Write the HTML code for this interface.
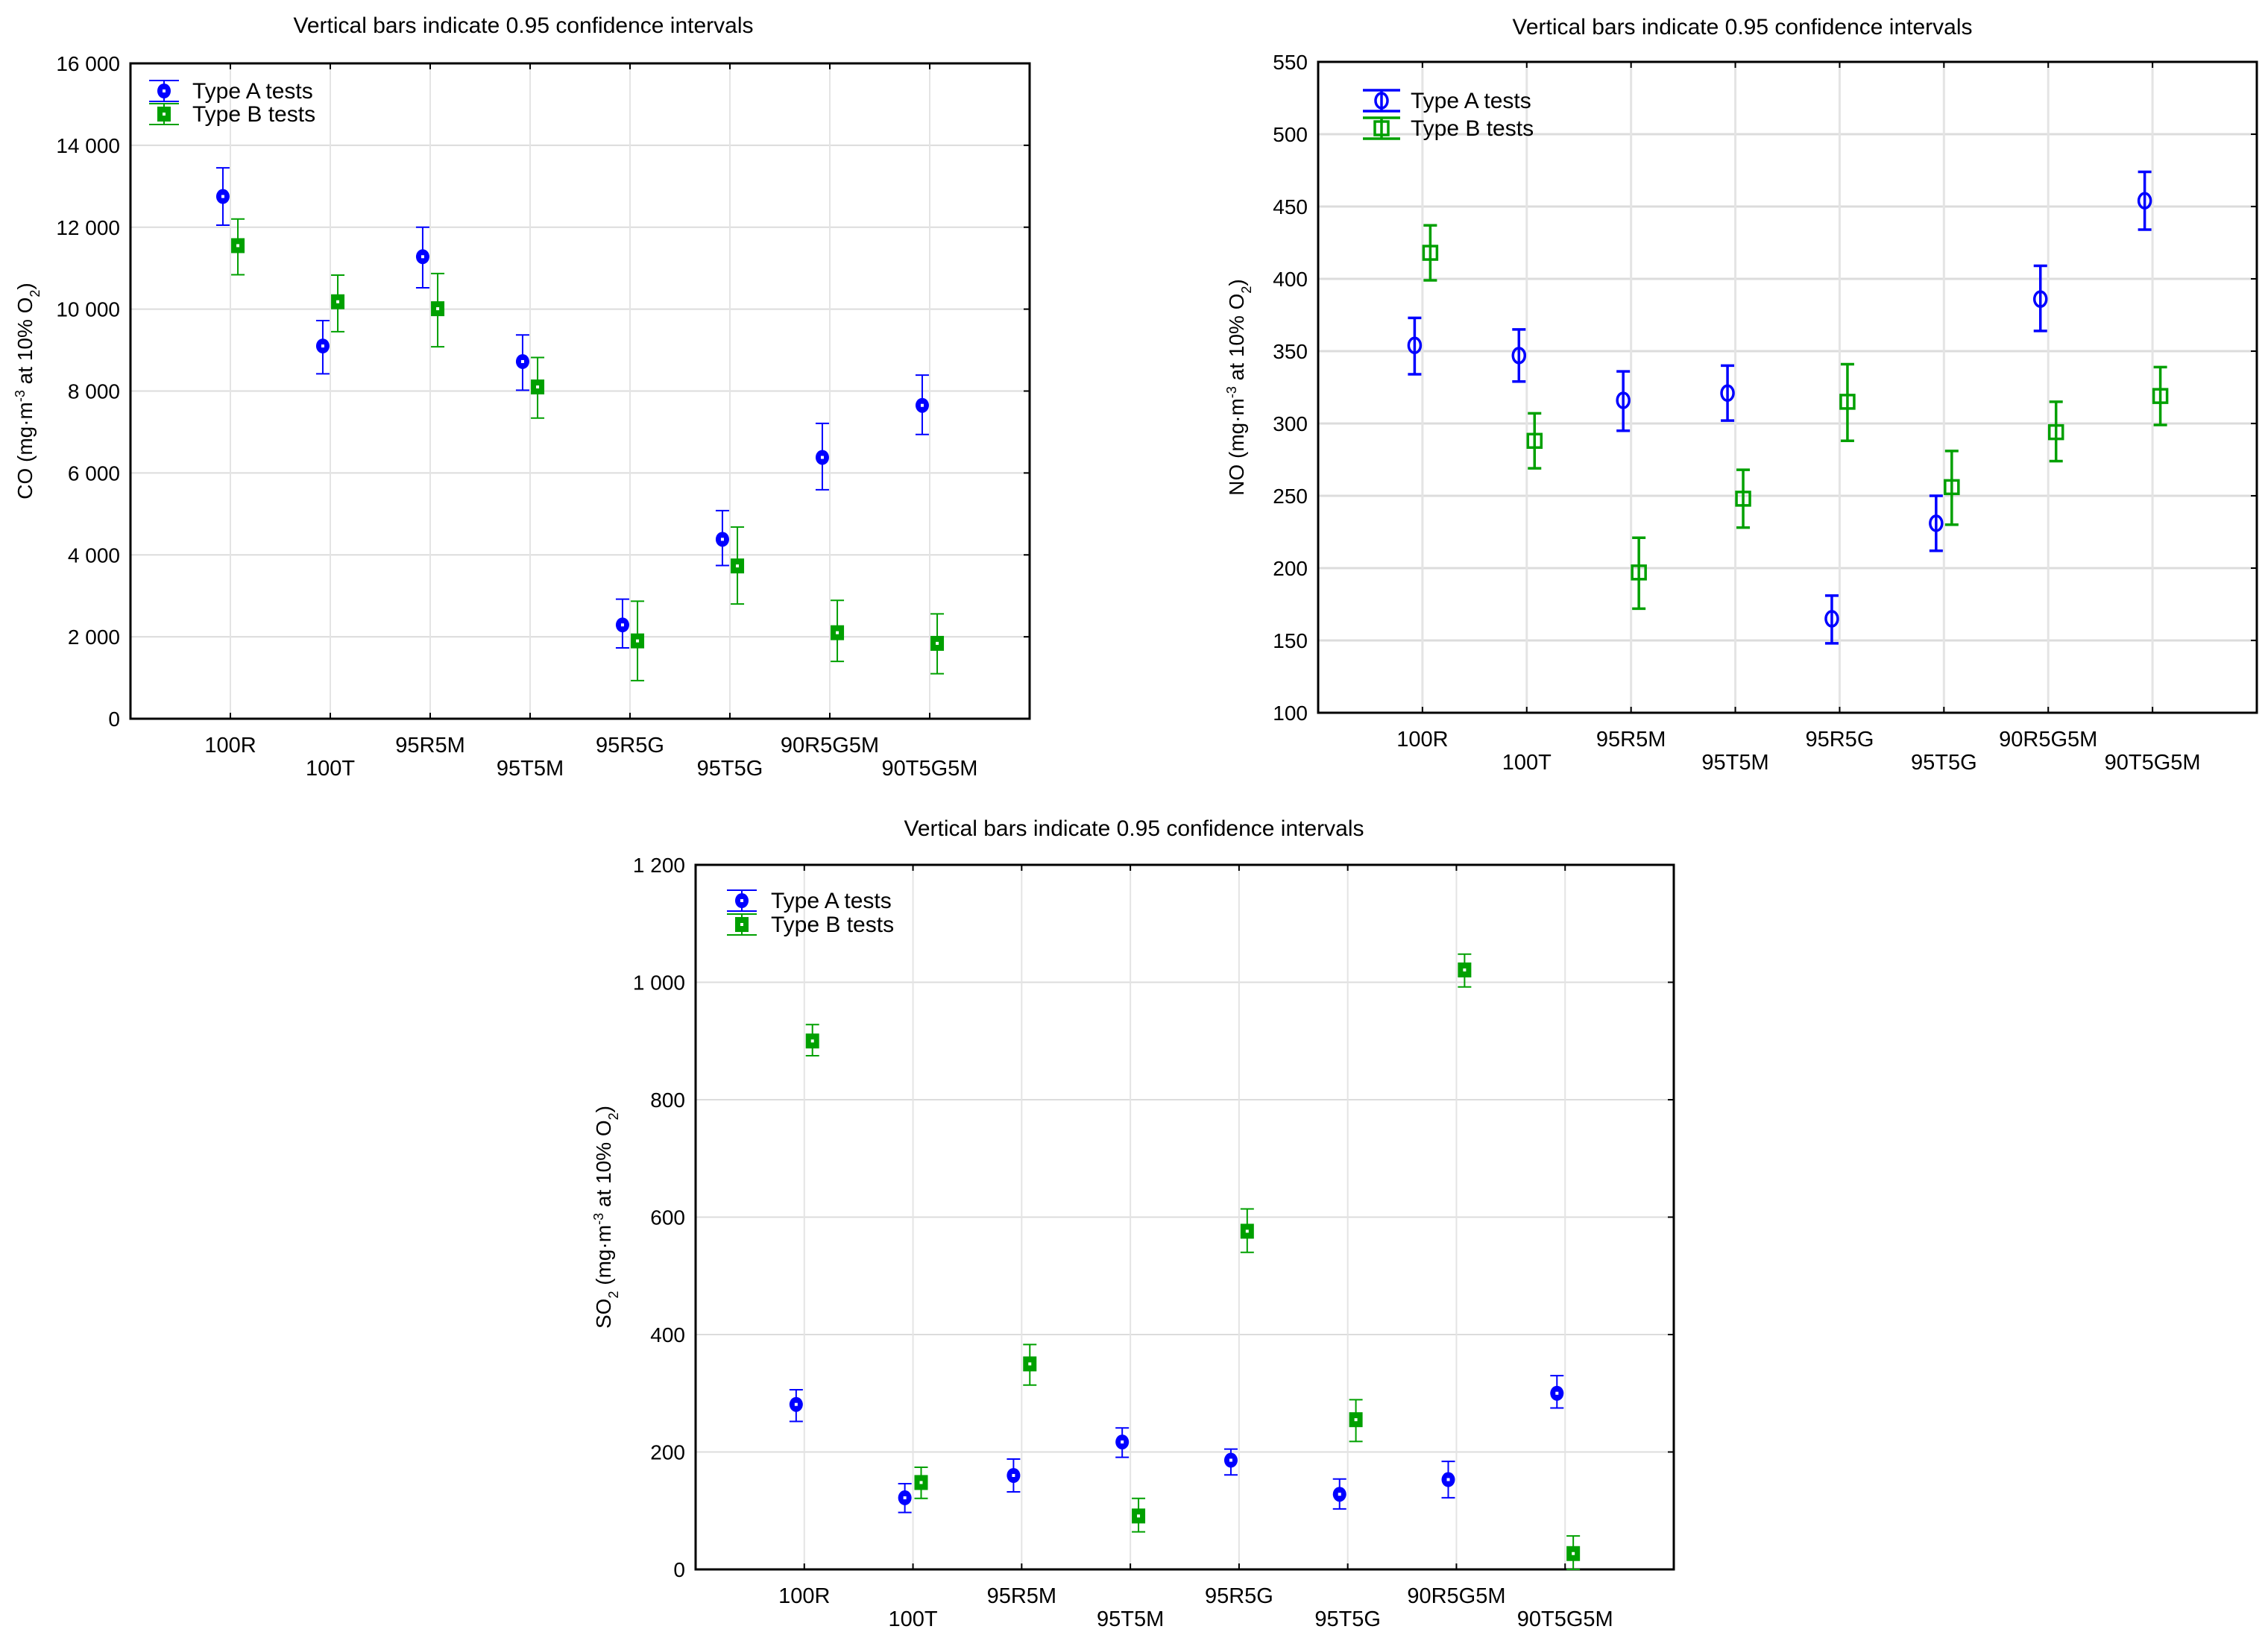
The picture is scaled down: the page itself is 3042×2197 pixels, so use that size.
<!DOCTYPE html>
<html><head><meta charset="utf-8"><style>
html,body{margin:0;padding:0;background:#fff;}
svg{display:block;font-family:"Liberation Sans",Arial,sans-serif;}
</style></head><body>
<svg id="root" width="3042" height="2197" viewBox="0 0 3042 2197" xmlns="http://www.w3.org/2000/svg"></svg>
<script>
const categories = ["100R","100T","95R5M","95T5M","95R5G","95T5G","90R5G5M","90T5G5M"];
const coA = [12750,9100,11280,8720,2290,4380,6380,7650];
const coAlo = [12050,8420,10520,8020,1730,3740,5590,6940];
const coAhi = [13450,9720,12000,9370,2920,5080,7210,8390];
const coB = [11550,10180,10010,8100,1900,3730,2100,1840];
const coBlo = [10840,9450,9080,7340,930,2800,1400,1100];
const coBhi = [12200,10830,10870,8820,2870,4680,2890,2560];
const coTicks = [0,2000,4000,6000,8000,10000,12000,14000,16000];
const coTickLabels = ["0","2 000","4 000","6 000","8 000","10 000","12 000","14 000","16 000"];
const noA = [354,347,316,321,165,231,386,454];
const noAlo = [334,329,295,302,148,212,364,434];
const noAhi = [373,365,336,340,181,250,409,474];
const noB = [418,288,197,248,315,256,294,319];
const noBlo = [399,269,172,228,288,230,274,299];
const noBhi = [437,307,221,268,341,281,315,339];
const noTicks = [100,150,200,250,300,350,400,450,500,550];
const noTickLabels = ["100","150","200","250","300","350","400","450","500","550"];
const soA = [281,122,160,217,186,128,153,300];
const soAlo = [252,97,132,191,161,103,122,275];
const soAhi = [306,146,188,241,205,154,184,330];
const soB = [900,148,350,91,576,255,1021,27];
const soBlo = [875,121,314,64,540,218,992,0];
const soBhi = [928,174,383,121,614,289,1048,57];
const soTicks = [0,200,400,600,800,1000,1200];
const soTickLabels = ["0","200","400","600","800","1 000","1 200"];

const NS="http://www.w3.org/2000/svg";
const root=document.getElementById('root');
function mk(tag,attrs,parent){const e=document.createElementNS(NS,tag);for(const k in attrs)e.setAttribute(k,attrs[k]);(parent||root).appendChild(e);return e;}
const BLUE="#0000ff", GREEN="#00a000";

function chart(cfg){
  const g=mk('g',{});
  
  
  const L=cfg.L,R=cfg.R,T=cfg.T,B=cfg.B,W=R-L,H=B-T;
  const y=v=>B-(v-cfg.ymin)/(cfg.ymax-cfg.ymin)*H;
  const x=i=>L+(i+1)*W/9;
  const off=0.075*W/9;
  cfg.ticks.forEach((t,i)=>{
    const gl=mk('line',{x1:L,x2:R,y1:y(t),y2:y(t),stroke:'#dcdcdc','stroke-width':cfg.open?3:2},g);
    
    
    mk('line',{x1:R-8,x2:R,y1:y(t),y2:y(t),stroke:'#000','stroke-width':2},g);
    const tl=mk('text',{x:L-14,y:y(t)+10,'text-anchor':'end','font-size':28,fill:'#000'},g);
    tl.textContent=cfg.tickLabels[i];
    
    
  });
  categories.forEach((c,i)=>{
    const vl=mk('line',{x1:x(i),x2:x(i),y1:T,y2:B,stroke:'#e4e4e4','stroke-width':cfg.open?3:2},g);
    
    
    mk('line',{x1:x(i),x2:x(i),y1:B,y2:B-8,stroke:'#000','stroke-width':2},g);
    mk('line',{x1:x(i),x2:x(i),y1:T,y2:T+8,stroke:'#000','stroke-width':2},g);
    const cl=mk('text',{x:x(i),y:B+(i%2?76:45),'text-anchor':'middle','font-size':29,fill:'#000'},g);
    cl.textContent=c;
    
    
  });
  const fr=mk('rect',{x:L,y:T,width:W,height:H,fill:'none',stroke:'#000','stroke-width':3},g);
  
  
  const tt=mk('text',{x:cfg.titleX,y:cfg.titleY,'text-anchor':'middle','font-size':30,fill:'#000'},g);
  tt.textContent='Vertical bars indicate 0.95 confidence intervals';
  
  
  const cy=(T+B)/2;
  const yt=mk('text',{x:cfg.yTitleX,y:cy,'text-anchor':'middle','font-size':28,fill:'#000',transform:`rotate(-90 ${cfg.yTitleX} ${cy})`},g);
  
  
  yt.innerHTML=cfg.yTitle+' (mg·m<tspan baseline-shift="super" font-size="18">-3</tspan> at 10% O<tspan baseline-shift="sub" font-size="18">2</tspan>)';
  const sw=cfg.open?3.5:2;
  function marker(px,py,col,shape,parent){
    if(cfg.open){
      if(shape==='c') mk('ellipse',{cx:px,cy:py,rx:8,ry:10,fill:'none',stroke:col,'stroke-width':3.5},parent);
      else mk('rect',{x:px-9,y:py-9,width:18,height:18,fill:'none',stroke:col,'stroke-width':3.5},parent);
    } else {
      if(shape==='c') mk('ellipse',{cx:px,cy:py,rx:9,ry:10,fill:col},parent);
      else mk('rect',{x:px-9,y:py-10,width:18,height:20,fill:col},parent);
      mk('rect',{x:px-2,y:py-2,width:4,height:4,fill:'#fff'},parent);
    }
  }
  function series(vals,lo,hi,col,shape,dx,nm){
    vals.forEach((v,i)=>{
      const pg=mk('g',{},g);
      
      
      const px=x(i)+dx;
      mk('line',{x1:px,x2:px,y1:y(lo[i]),y2:y(hi[i]),stroke:col,'stroke-width':sw},pg);
      mk('line',{x1:px-9,x2:px+9,y1:y(lo[i]),y2:y(lo[i]),stroke:col,'stroke-width':sw},pg);
      mk('line',{x1:px-9,x2:px+9,y1:y(hi[i]),y2:y(hi[i]),stroke:col,'stroke-width':sw},pg);
      marker(px,y(v),col,shape,pg);
    });
  }
  series(cfg.a,cfg.alo,cfg.ahi,BLUE,'c',-off,'type-a');
  series(cfg.b,cfg.blo,cfg.bhi,GREEN,'s',off,'type-b');
  const lg=mk('g',{},g);
  
  
  [['Type A tests',BLUE,'c'],['Type B tests',GREEN,'s']].forEach((e,k)=>{
    const eg=mk('g',{},lg);
    
    
    const sx=L+cfg.legSX, sy=T+cfg.legRows[k];
    const hw=cfg.open?25:20;
    mk('line',{x1:sx-hw,x2:sx+hw,y1:sy-14,y2:sy-14,stroke:e[1],'stroke-width':sw},eg);
    mk('line',{x1:sx-hw,x2:sx+hw,y1:sy+14,y2:sy+14,stroke:e[1],'stroke-width':sw},eg);
    mk('line',{x1:sx,x2:sx,y1:sy-14,y2:sy+14,stroke:e[1],'stroke-width':sw},eg);
    marker(sx,sy,e[1],e[2],eg);
    const lt=mk('text',{x:L+cfg.legTX,y:sy+10,'font-size':30,fill:'#000'},eg);
    lt.textContent=e[0];
  });
}
chart({name:'co-chart',L:175,R:1381,T:85,B:964,ymin:0,ymax:16000,ticks:coTicks,tickLabels:coTickLabels,
  a:coA,alo:coAlo,ahi:coAhi,b:coB,blo:coBlo,bhi:coBhi,open:false,titleX:702,titleY:44,yTitleX:43,yTitle:'CO',
  legSX:45,legTX:83,legRows:[37,68]});
chart({name:'no-chart',L:1768,R:3027,T:83,B:956,ymin:100,ymax:550,ticks:noTicks,tickLabels:noTickLabels,
  a:noA,alo:noAlo,ahi:noAhi,b:noB,blo:noBlo,bhi:noBhi,open:true,titleX:2337,titleY:46,yTitleX:1668,yTitle:'NO',
  legSX:85,legTX:124,legRows:[52,89]});
chart({name:'so2-chart',L:933,R:2245,T:1160,B:2105,ymin:0,ymax:1200,ticks:soTicks,tickLabels:soTickLabels,
  a:soA,alo:soAlo,ahi:soAhi,b:soB,blo:soBlo,bhi:soBhi,open:false,titleX:1521,titleY:1121,yTitleX:819,yTitle:'SO<tspan baseline-shift="sub" font-size="18">2</tspan>',
  legSX:62,legTX:101,legRows:[48,80]});
</script>
</body></html>
